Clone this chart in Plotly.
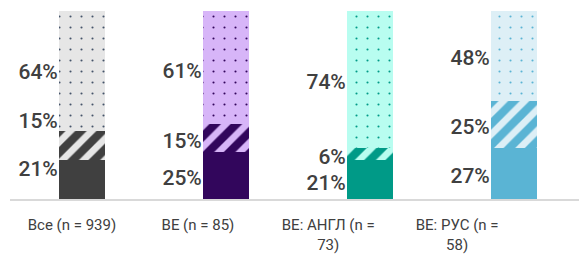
import plotly.graph_objects as go

categories = ["Все (n = 939)", "ВЕ (n = 85)", "ВЕ: АНГЛ (n =<br>73)", "ВЕ: РУС (n =<br>58)"]
solid_vals = [21, 25, 21, 27]
striped_vals = [15, 15, 6, 25]
dotted_vals = [64, 61, 74, 48]

dark_colors = ["#404040", "#32065c", "#009a87", "#5ab4d4"]
light_colors = ["#e6e6e6", "#d7b5f8", "#b8fdf0", "#ddeff6"]
dot_colors = ["#44546a", "#32065c", "#009a87", "#5ab4d4"]

# visual nudges for the data labels (in percentage points), as in the reference
solid_nudge = [4.7, -2.1, -2.8, -2.1]
striped_nudge = [12.2, -2.4, -2.4, -2.0]
dotted_nudge = [-1.2, -3.2, -2.6, -1.8]

# tick label offsets from bar centre (category units)
tick_offset = [-0.07, -0.195, -0.29, -0.395]

x = list(range(len(categories)))
bar_w = 0.32

fig = go.Figure()
for i in x:
    fig.add_bar(x=[i], y=[solid_vals[i]], width=bar_w,
                marker=dict(color=dark_colors[i], line=dict(width=0)), hoverinfo="skip")
    fig.add_bar(x=[i], y=[striped_vals[i]], width=bar_w,
                marker=dict(color=light_colors[i], line=dict(width=0),
                            pattern=dict(shape="/", fgcolor=dark_colors[i], fgopacity=1,
                                         size=15, solidity=0.55, fillmode="overlay")),
                hoverinfo="skip")
    fig.add_bar(x=[i], y=[dotted_vals[i]], width=bar_w,
                marker=dict(color=light_colors[i], line=dict(width=0),
                            pattern=dict(shape=".", fgcolor=dot_colors[i], fgopacity=1,
                                         size=11, solidity=0.03, fillmode="overlay")),
                hoverinfo="skip")

lab_x, lab_y, lab_t = [], [], []
for i in x:
    s, m, d = solid_vals[i], striped_vals[i], dotted_vals[i]
    lab_x += [i - bar_w / 2 - 0.008] * 3
    lab_y += [s / 2 + solid_nudge[i], s + m / 2 + striped_nudge[i], s + m + d / 2 + dotted_nudge[i]]
    lab_t += [f"{s}%", f"{m}%", f"{d}%"]

fig.add_scatter(x=lab_x, y=lab_y, text=lab_t, mode="text", textposition="middle left",
                textfont=dict(family="Roboto", size=21, color="#404040", weight=500),
                hoverinfo="skip", cliponaxis=False)

fig.update_layout(
    barmode="stack", width=587, height=255, showlegend=False,
    margin=dict(l=2, r=9, t=3, b=64, autoexpand=False),
    plot_bgcolor="white", paper_bgcolor="white",
    font=dict(family="Roboto", color="#404040"),
)
fig.update_xaxes(range=[-0.5, 3.5], tickmode="array", automargin=False,
                 tickvals=[i + o for i, o in zip(x, tick_offset)], ticktext=categories,
                 showline=True, linecolor="#d9d9d9", linewidth=2, ticks="", showgrid=False,
                 ticklabelstandoff=11,
                 tickfont=dict(family="Roboto", size=15, color="#404040"), zeroline=False)
fig.update_yaxes(range=[0, 100], visible=False, automargin=False)

fig.write_html("out.html")
